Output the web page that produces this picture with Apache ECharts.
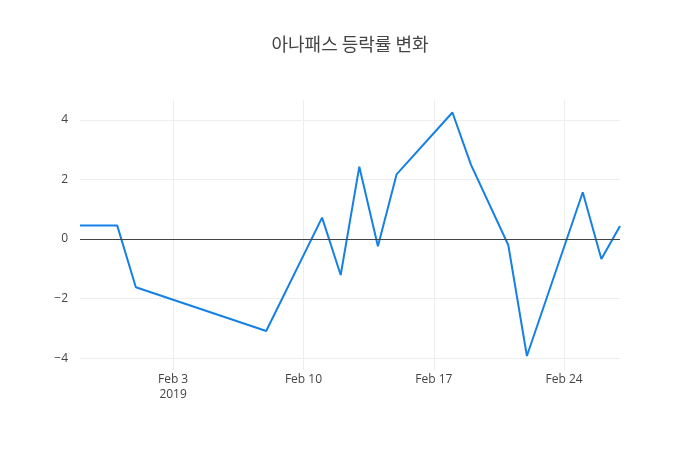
<!DOCTYPE html>
<html>
<head>
<meta charset="utf-8">
<script src="https://cdn.jsdelivr.net/npm/echarts@6/dist/echarts.min.js"></script>
<style>
  html, body { margin: 0; padding: 0; background: #fff; }
  #main { width: 700px; height: 450px; }
</style>
</head>
<body>
<div id="main"></div>
<script>
// 거래일, 등락률(%)
var dates = [
  "2019-01-29", "2019-01-31", "2019-02-01", "2019-02-08", "2019-02-11",
  "2019-02-12", "2019-02-13", "2019-02-14", "2019-02-15", "2019-02-18",
  "2019-02-19", "2019-02-21", "2019-02-22", "2019-02-25", "2019-02-26",
  "2019-02-27"
];
var rates = [
  0.45, 0.45, -1.62, -3.09, 0.72,
  -1.21, 2.43, -0.24, 2.17, 4.25,
  2.49, -0.2, -3.93, 1.57, -0.67,
  0.44
];
var xTickDates = ["2019-02-03", "2019-02-10", "2019-02-17", "2019-02-24"];
var xTickLabels = ["Feb 3\n2019", "Feb 10", "Feb 17", "Feb 24"];
var yTicks = [-4, -2, 0, 2, 4];

function toTime(s) {
  return new Date(s + "T00:00:00Z").getTime();
}

var seriesData = [];
for (var i = 0; i < dates.length; i++) {
  seriesData.push([toTime(dates[i]), rates[i]]);
}
var xTicks = xTickDates.map(toTime);

var myChart = echarts.init(document.getElementById("main"));
var option = {
  backgroundColor: "#ffffff",
  animation: false,
  title: {
    text: "아나패스 등락률 변화",
    left: "center",
    top: 30,
    textStyle: {
      fontFamily: "Noto Sans CJK KR",
      fontWeight: "normal",
      fontSize: 18,
      color: "#444"
    }
  },
  grid: {
    left: 80,
    right: 80,
    top: 100,
    bottom: 80
  },
  xAxis: {
    type: "value",
    min: toTime(dates[0]),
    max: toTime(dates[dates.length - 1]),
    axisLine: { show: false },
    axisTick: { show: false, customValues: xTicks },
    splitLine: {
      show: true,
      lineStyle: { color: "#eeeeee", width: 1 }
    },
    axisLabel: {
      customValues: xTicks,
      margin: 2,
      fontFamily: "Open Sans",
      fontSize: 12,
      color: "#444",
      lineHeight: 15,
      formatter: function(val) {
        var idx = xTicks.indexOf(val);
        return idx >= 0 ? xTickLabels[idx] : "";
      }
    }
  },
  yAxis: {
    type: "value",
    min: -4.4,
    max: 4.67,
    axisLine: { show: false },
    axisTick: { show: false, customValues: yTicks },
    splitLine: {
      show: true,
      lineStyle: { color: "#eeeeee", width: 1 }
    },
    axisLabel: {
      customValues: yTicks,
      margin: 12,
      fontFamily: "Open Sans",
      fontSize: 12,
      color: "#444",
      formatter: function(val) {
        return String(val).replace("-", "\u2212");
      }
    }
  },
  series: [
    {
      name: "등락률",
      type: "line",
      data: seriesData,
      showSymbol: false,
      symbol: "none",
      lineStyle: { color: "#1580e5", width: 2 },
      itemStyle: { color: "#1580e5" },
      markLine: {
        silent: true,
        symbol: "none",
        label: { show: false },
        lineStyle: { color: "#444", width: 1, type: "solid" },
        data: [{ yAxis: 0 }]
      },
      z: 3
    }
  ]
};
myChart.setOption(option);
</script>
</body>
</html>
